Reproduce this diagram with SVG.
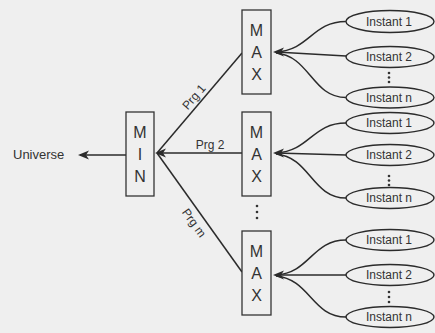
<svg xmlns="http://www.w3.org/2000/svg" width="435" height="333" viewBox="0 0 435 333">
<style>
.bg{fill:#efefef}
.box{fill:#efefef;stroke:#333;stroke-width:1.3}
.ell{fill:#efefef;stroke:#2b2b2b;stroke-width:1.4}
.ln{fill:none;stroke:#2b2b2b;stroke-width:1.5}
.t{font-family:"Liberation Sans",Arial,sans-serif;fill:#333}
.big{font-size:16px;text-anchor:middle}
.lab{font-size:12px;text-anchor:middle}
.dot{fill:#333}
.head{fill:#2b2b2b}
</style>
<defs>
<path id="ah" class="head" d="M0,0 L11,-4.5 L8,0 L11,4.5 Z"/>
</defs>
<rect class="bg" x="0" y="0" width="435" height="333"/>
<g id="connectors">
<path class="ln" d="M126,155 L80,155"/>
<path class="ln" d="M242,53 L157,153"/>
<path class="ln" d="M242,153 L157,153"/>
<path class="ln" d="M242,272 L157,153"/>
<path class="ln" d="M346,21.5 C312,21.5 310,50 276,52"/>
<path class="ln" d="M346,56 L276,52"/>
<path class="ln" d="M346,97.5 C312,97.5 310,56 276,53"/>
<path class="ln" d="M346,123 C312,123 310,151 276,153"/>
<path class="ln" d="M346,155 L276,153"/>
<path class="ln" d="M346,198 C312,198 310,157 276,154"/>
<path class="ln" d="M346,240 C312,240 310,273 276,275"/>
<path class="ln" d="M346,275 L276,275"/>
<path class="ln" d="M346,317 C312,317 310,279 276,276"/>
<use href="#ah" x="78" y="155"/>
<use href="#ah" x="155" y="153"/>
<use href="#ah" x="273" y="52"/>
<use href="#ah" x="273" y="153"/>
<use href="#ah" x="273" y="275"/>
<text class="t lab" x="210" y="149">Prg 2</text>
<text class="t lab" x="197" y="99.6" transform="rotate(-49.3 197 99.6)">Prg 1</text>
<text class="t lab" x="190.8" y="225.3" transform="rotate(54.1 190.8 225.3)">Prg m</text>
</g>
<g id="universe"><text class="t" x="13" y="159" font-size="13">Universe</text></g>
<g id="min">
<rect class="box" x="126" y="112" width="28" height="84"/>
<text class="t big" x="140" y="138">M</text><text class="t big" x="140" y="160">I</text><text class="t big" x="140" y="182">N</text>
</g>
<g id="max1">
<rect class="box" x="242" y="10" width="29" height="84"/>
<text class="t big" x="256.5" y="36">M</text><text class="t big" x="256.5" y="58">A</text><text class="t big" x="256.5" y="80">X</text>
</g>
<g id="max2">
<rect class="box" x="242" y="112" width="29" height="84"/>
<text class="t big" x="256.5" y="138">M</text><text class="t big" x="256.5" y="160">A</text><text class="t big" x="256.5" y="182">X</text>
</g>
<g id="max3">
<rect class="box" x="242" y="231" width="29" height="84"/>
<text class="t big" x="256.5" y="257">M</text><text class="t big" x="256.5" y="279">A</text><text class="t big" x="256.5" y="301">X</text>
</g>
<g id="dots-mid"><circle class="dot" cx="257" cy="206" r="1.3"/><circle class="dot" cx="257" cy="212" r="1.3"/><circle class="dot" cx="257" cy="218" r="1.3"/></g>
<g id="g1-i1"><ellipse class="ell" cx="390" cy="21.5" rx="44" ry="11"/><text class="t lab" x="389" y="25.5">Instant 1</text></g>
<g id="g1-i2"><ellipse class="ell" cx="390" cy="57" rx="44" ry="10.5"/><text class="t lab" x="389" y="61">Instant 2</text></g>
<g id="g1-dots"><circle class="dot" cx="389" cy="73" r="1.3"/><circle class="dot" cx="389" cy="77.5" r="1.3"/><circle class="dot" cx="389" cy="82" r="1.3"/></g>
<g id="g1-in"><ellipse class="ell" cx="390" cy="97.5" rx="44" ry="10.5"/><text class="t lab" x="389" y="101.5">Instant n</text></g>
<g id="g2-i1"><ellipse class="ell" cx="390" cy="123" rx="44" ry="10.5"/><text class="t lab" x="389" y="127">Instant 1</text></g>
<g id="g2-i2"><ellipse class="ell" cx="390" cy="155" rx="44" ry="10.5"/><text class="t lab" x="389" y="159">Instant 2</text></g>
<g id="g2-dots"><circle class="dot" cx="389" cy="176" r="1.3"/><circle class="dot" cx="389" cy="180.5" r="1.3"/><circle class="dot" cx="389" cy="185" r="1.3"/></g>
<g id="g2-in"><ellipse class="ell" cx="390" cy="198" rx="44" ry="10.5"/><text class="t lab" x="389" y="202">Instant n</text></g>
<g id="g3-i1"><ellipse class="ell" cx="390" cy="240" rx="44" ry="10.5"/><text class="t lab" x="389" y="244">Instant 1</text></g>
<g id="g3-i2"><ellipse class="ell" cx="390" cy="275" rx="44" ry="10.5"/><text class="t lab" x="389" y="279">Instant 2</text></g>
<g id="g3-dots"><circle class="dot" cx="389" cy="292" r="1.3"/><circle class="dot" cx="389" cy="297" r="1.3"/><circle class="dot" cx="389" cy="302" r="1.3"/></g>
<g id="g3-in"><ellipse class="ell" cx="390" cy="317" rx="44" ry="10.5"/><text class="t lab" x="389" y="321">Instant n</text></g>
</svg>
